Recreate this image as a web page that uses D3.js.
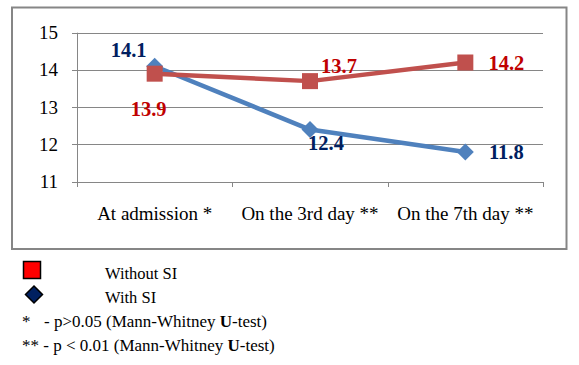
<!DOCTYPE html>
<html><head><meta charset="utf-8">
<script src="https://cdn.jsdelivr.net/npm/d3@7"></script>
<style>body{margin:0;background:#fff}svg{display:block}
text{font-family:"Liberation Serif","Times New Roman",Tinos,"DejaVu Serif",serif}</style>
</head><body>
<svg id="c" width="579" height="365"></svg>
<script>
const categories = ["At admission *", "On the 3rd day **", "On the 7th day **"];
const withoutSI = [13.9, 13.7, 14.2];
const withSI = [14.1, 12.4, 11.8];
const yTicks = [11, 12, 13, 14, 15];
const legendLabels = ["Without SI", "With SI"];

const svg = d3.select("#c");

// outer frame
svg.append("rect").attr("x", 12).attr("y", 7.5).attr("width", 554.5).attr("height", 241.5)
  .attr("fill", "none").attr("stroke", "#868686").attr("stroke-width", 2);

const x = d3.scaleBand().domain(categories).range([77, 543]);
const y = d3.scaleLinear().domain([11, 15]).range([181.7, 32.7]);

// gridlines
svg.append("g").selectAll("line").data(yTicks).join("line")
  .attr("x1", 72).attr("x2", 543)
  .attr("y1", d => Math.round(y(d)) + 0.5).attr("y2", d => Math.round(y(d)) + 0.5)
  .attr("stroke", "#868686").attr("stroke-width", 1);

// y axis line
svg.append("line").attr("x1", 77.5).attr("x2", 77.5).attr("y1", 32.7).attr("y2", 187)
  .attr("stroke", "#868686");
// x category ticks
svg.append("g").selectAll("line").data(categories.map(c => x(c)).concat([x.range()[1]])).join("line")
  .attr("x1", d => Math.round(d) + 0.5).attr("x2", d => Math.round(d) + 0.5)
  .attr("y1", 182).attr("y2", 187).attr("stroke", "#868686");

// y tick labels
svg.append("g").selectAll("text").data(yTicks).join("text")
  .attr("x", 58).attr("y", d => y(d) + 6.5).attr("text-anchor", "end")
  .attr("font-size", 19).attr("fill", "#000").text(d => d);

// category labels
svg.append("g").selectAll("text").data(categories).join("text")
  .attr("x", d => x(d) + x.bandwidth() / 2).attr("y", 220).attr("text-anchor", "middle")
  .attr("font-size", 19).attr("fill", "#000").text(d => d);

const cx = c => x(c) + x.bandwidth() / 2;
const line = d3.line().x((d, i) => cx(categories[i])).y(d => y(d));

// blue series
svg.append("path").datum(withSI).attr("d", line).attr("fill", "none")
  .attr("stroke", "#4F81BD").attr("stroke-width", 4.5).attr("stroke-linejoin", "round");
svg.append("g").selectAll("path").data(withSI).join("path")
  .attr("transform", (d, i) => `translate(${cx(categories[i])},${y(d)})`)
  .attr("d", "M0,-8.5L8.5,0L0,8.5L-8.5,0Z").attr("fill", "#4F81BD");

// red series
svg.append("path").datum(withoutSI).attr("d", line).attr("fill", "none")
  .attr("stroke", "#C0504D").attr("stroke-width", 4.5).attr("stroke-linejoin", "round");
svg.append("g").selectAll("rect").data(withoutSI).join("rect")
  .attr("x", (d, i) => cx(categories[i]) - 8).attr("y", d => y(d) - 8)
  .attr("width", 16).attr("height", 16).attr("fill", "#C0504D");

// data labels (offset of label centre / baseline from marker)
const redOff = [[-6, 42], [29, -8], [41, 7.5]];
const blueOff = [[-26, -9], [16, 20], [41, 7]];
svg.append("g").selectAll("text").data(withoutSI).join("text")
  .attr("x", (d, i) => cx(categories[i]) + redOff[i][0])
  .attr("y", (d, i) => y(d) + redOff[i][1]).attr("text-anchor", "middle")
  .attr("font-size", 20.5).attr("font-weight", "bold")
  .attr("fill", "#C00000").text(d => d.toFixed(1));
svg.append("g").selectAll("text").data(withSI).join("text")
  .attr("x", (d, i) => cx(categories[i]) + blueOff[i][0])
  .attr("y", (d, i) => y(d) + blueOff[i][1]).attr("text-anchor", "middle")
  .attr("font-size", 20.5).attr("font-weight", "bold")
  .attr("fill", "#002060").text(d => d.toFixed(1));

// legend
svg.append("rect").attr("x", 23.5).attr("y", 261.5).attr("width", 17).attr("height", 17)
  .attr("fill", "#FF0000").attr("stroke", "#000").attr("stroke-width", 1.5);
svg.append("path").attr("transform", "translate(34,294.5)").attr("d", "M0,-8.5L8.5,0L0,8.5L-8.5,0Z")
  .attr("fill", "#002060").attr("stroke", "#000").attr("stroke-width", 1.5);
svg.append("g").selectAll("text").data(legendLabels).join("text")
  .attr("x", 105).attr("y", (d, i) => 279 + i * 24)
  .attr("font-size", 16.5).attr("fill", "#000").text(d => d);

const note1 = svg.append("text").attr("x", 22).attr("y", 327)
  .attr("font-size", 17).attr("fill", "#000");
note1.append("tspan").text("*");
note1.append("tspan").attr("x", 44).text("- p>0.05 (Mann-Whitney ");
note1.append("tspan").attr("font-weight", "bold").text("U");
note1.append("tspan").text("-test)");

const note2 = svg.append("text").attr("x", 22).attr("y", 351)
  .attr("font-size", 17).attr("fill", "#000");
note2.append("tspan").text("** - p < 0.01 (Mann-Whitney ");
note2.append("tspan").attr("font-weight", "bold").text("U");
note2.append("tspan").text("-test)");
</script>
</body></html>
